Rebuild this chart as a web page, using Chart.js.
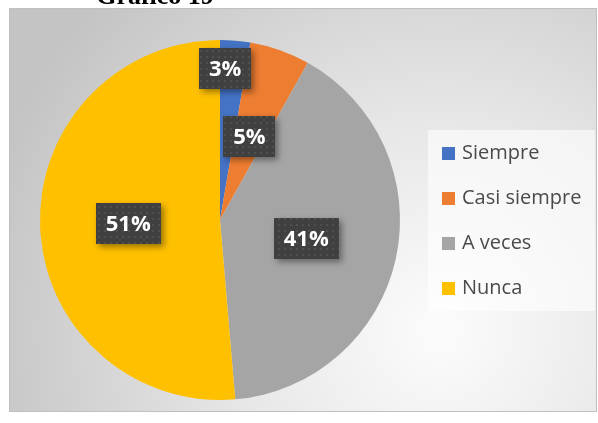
<!DOCTYPE html>
<html>
<head>
<meta charset="utf-8">
<script src="https://cdn.jsdelivr.net/npm/chart.js@4/dist/chart.umd.min.js"></script>
<style>
  html, body { margin: 0; padding: 0; background: #fff; }
  canvas { display: block; }
</style>
</head>
<body>
<canvas id="pie" width="598" height="423"></canvas>
<script>
const categories = ['Siempre', 'Casi siempre', 'A veces', 'Nunca'];
const counts = [1, 2, 15, 19];
const colors = ['#4472C4', '#ED7D31', '#A5A5A5', '#FFC000'];
const title = 'Gráfico 19';

// where each label sits inside its slice (radius fraction, angle fraction)
const labelRadius = [0.84, 0.49, 0.49, 0.51];
const labelAngle = [0.2, 0.5, 0.5, 0.5];

const total = counts.reduce((a, b) => a + b, 0);
const pct = counts.map(v => Math.round(v / total * 100) + '%');

// dotted dark fill for the data labels
const tile = document.createElement('canvas');
tile.width = 6; tile.height = 6;
const tctx = tile.getContext('2d');
tctx.fillStyle = '#404040';
tctx.fillRect(0, 0, 6, 6);
tctx.fillStyle = '#4f4f4f';
tctx.fillRect(2, 2, 2, 2);

const frame = { x: 9, y: 8, w: 588, h: 404 };

const backdrop = {
  id: 'backdrop',
  beforeDraw(chart) {
    const ctx = chart.ctx;
    ctx.save();
    ctx.fillStyle = '#fff';
    ctx.fillRect(0, 0, chart.width, chart.height);
    const g = ctx.createRadialGradient(440, 330, 10, 440, 330, 470);
    g.addColorStop(0, '#fbfbfb');
    g.addColorStop(0.45, '#e6e6e6');
    g.addColorStop(1, '#c4c4c4');
    ctx.fillStyle = g;
    ctx.fillRect(frame.x, frame.y, frame.w, frame.h);
    ctx.strokeStyle = '#c0c0c0';
    ctx.lineWidth = 1;
    ctx.strokeRect(frame.x + 0.5, frame.y + 0.5, frame.w - 1, frame.h - 1);

    // title, mostly cut off at the top
    ctx.fillStyle = '#000';
    ctx.font = 'bold 26px "Liberation Serif"';
    ctx.textAlign = 'center';
    ctx.textBaseline = 'alphabetic';
    ctx.fillText(title, 155, 4);
    ctx.restore();
  },
  afterDraw(chart) {
    const ctx = chart.ctx;
    ctx.save();
    // legend box
    ctx.fillStyle = 'rgba(255,255,255,0.6)';
    ctx.fillRect(428, 130, 167, 181);
    ctx.font = '20px "Open Sans"';
    ctx.textBaseline = 'middle';
    ctx.textAlign = 'left';
    categories.forEach((c, i) => {
      const y = 153 + i * 45;
      ctx.fillStyle = colors[i];
      ctx.fillRect(442, y - 6, 13, 13);
      ctx.fillStyle = '#4a4a4a';
      ctx.fillText(c, 462, y);
    });

    // data labels
    const meta = chart.getDatasetMeta(0);
    ctx.font = 'bold 22px "Open Sans"';
    ctx.textAlign = 'center';
    meta.data.forEach((arc, i) => {
      const p = arc.getProps(['x', 'y', 'startAngle', 'endAngle', 'outerRadius'], true);
      const a = p.startAngle + (p.endAngle - p.startAngle) * labelAngle[i];
      const r = p.outerRadius * labelRadius[i];
      const cx = p.x + Math.cos(a) * r;
      const cy = p.y + Math.sin(a) * r;
      const tw = ctx.measureText(pct[i]).width;
      const bw = tw + 20, bh = 41;
      ctx.save();
      ctx.shadowColor = 'rgba(0,0,0,0.4)';
      ctx.shadowBlur = 6;
      ctx.shadowOffsetX = 3;
      ctx.shadowOffsetY = 3;
      ctx.fillStyle = ctx.createPattern(tile, 'repeat');
      ctx.fillRect(Math.round(cx - bw / 2), Math.round(cy - bh / 2), Math.round(bw), bh);
      ctx.restore();
      ctx.fillStyle = '#fff';
      ctx.fillText(pct[i], cx, cy + 1);
    });
    ctx.restore();
  }
};

new Chart(document.getElementById('pie'), {
  type: 'pie',
  data: {
    labels: categories,
    datasets: [{
      data: counts,
      backgroundColor: colors,
      borderWidth: 0
    }]
  },
  options: {
    responsive: false,
    animation: false,
    layout: { padding: { left: 40, right: 198, top: 40, bottom: 23 } },
    plugins: {
      legend: { display: false },
      tooltip: { enabled: false },
      title: { display: false }
    }
  },
  plugins: [backdrop]
});
</script>
</body>
</html>
